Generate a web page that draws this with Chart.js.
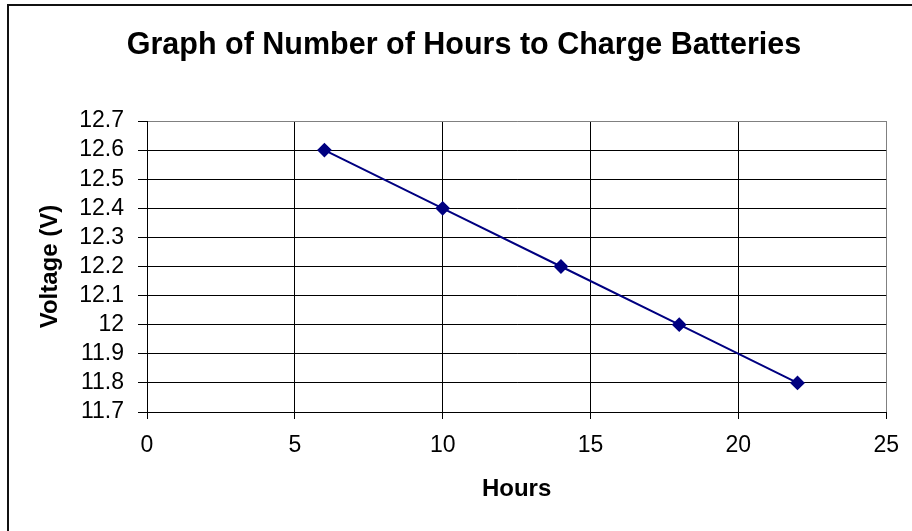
<!DOCTYPE html>
<html>
<head>
<meta charset="utf-8">
<script src="https://cdn.jsdelivr.net/npm/chart.js@4"></script>
<style>
  body { margin: 0; background: #fff; }
  #wrap { width: 912px; height: 531px; }
</style>
</head>
<body>
<div id="wrap"><canvas id="chart" width="912" height="531"></canvas></div>
<script>
const chartTitle = 'Graph of Number of Hours to Charge Batteries';
const xTitle = 'Hours';
const yTitle = 'Voltage (V)';

const hours = [6, 10, 14, 18, 22];
const voltage = [12.6, 12.4, 12.2, 12.0, 11.8];

const xTicks = [0, 5, 10, 15, 20, 25];
const yTicks = [11.7, 11.8, 11.9, 12, 12.1, 12.2, 12.3, 12.4, 12.5, 12.6, 12.7];

const FONT = "'Liberation Sans', Arial, sans-serif";

// outer frame + chart title (Excel style)
const frame = {
    id: 'frame',
    beforeDraw(chart) {
        const ctx = chart.ctx;
        ctx.save();
        ctx.strokeStyle = '#111';
        ctx.lineWidth = 2;
        ctx.strokeRect(8, 5, 1000, 600);
        ctx.fillStyle = '#000';
        ctx.font = 'bold 30.5px ' + FONT;
        ctx.textAlign = 'center';
        ctx.textBaseline = 'alphabetic';
        ctx.fillText(chartTitle, 464, 54);
        ctx.restore();
    }
};

const points = hours.map((h, i) => ({ x: h, y: voltage[i] }));

new Chart(document.getElementById('chart'), {
    type: 'scatter',
    data: {
        datasets: [{
            data: points,
            showLine: true,
            borderColor: '#000080',
            backgroundColor: '#000080',
            borderWidth: 2,
            pointStyle: 'rectRot',
            pointRadius: 6,
            pointHoverRadius: 6
        }]
    },
    options: {
        responsive: false,
        animation: false,
        layout: { padding: { top: 121, right: 24, left: 0, bottom: 0 } },
        plugins: {
            legend: { display: false },
            tooltip: { enabled: false }
        },
        scales: {
            x: {
                type: 'linear',
                min: 0,
                max: 25,
                afterBuildTicks: s => { s.ticks = xTicks.map(v => ({ value: v })); },
                afterFit: s => { s.height = 119; },
                ticks: {
                    color: '#000',
                    font: { family: FONT, size: 23 },
                    padding: 13,
                    maxRotation: 0,
                    autoSkip: false,
                    callback: v => String(v)
                },
                grid: {
                    color: c => c.tick && c.tick.value === 25 ? '#808080' : '#000',
                    tickColor: '#000',
                    tickLength: 7,
                    lineWidth: 1
                },
                border: { color: '#000', width: 1 },
                title: {
                    display: true,
                    text: xTitle,
                    color: '#000',
                    font: { family: FONT, size: 24, weight: 'bold' },
                    padding: { top: 0, bottom: 27 }
                }
            },
            y: {
                type: 'linear',
                min: 11.7,
                max: 12.7,
                afterBuildTicks: s => { s.ticks = yTicks.map(v => ({ value: v })); },
                afterFit: s => { s.width = 147; },
                ticks: {
                    color: '#000',
                    font: { family: FONT, size: 23 },
                    padding: 14,
                    autoSkip: false,
                    callback: v => String(Math.round(v * 10) / 10)
                },
                grid: {
                    color: c => c.tick && Math.abs(c.tick.value - 12.7) < 1e-6 ? '#808080' : '#000',
                    tickColor: '#000',
                    tickLength: 9,
                    lineWidth: 1
                },
                border: { color: '#000', width: 1 },
                title: {
                    display: true,
                    text: yTitle,
                    color: '#000',
                    font: { family: FONT, size: 24, weight: 'bold' },
                    padding: { top: 36, bottom: 0 }
                }
            }
        }
    },
    plugins: [frame]
});
</script>
</body>
</html>
